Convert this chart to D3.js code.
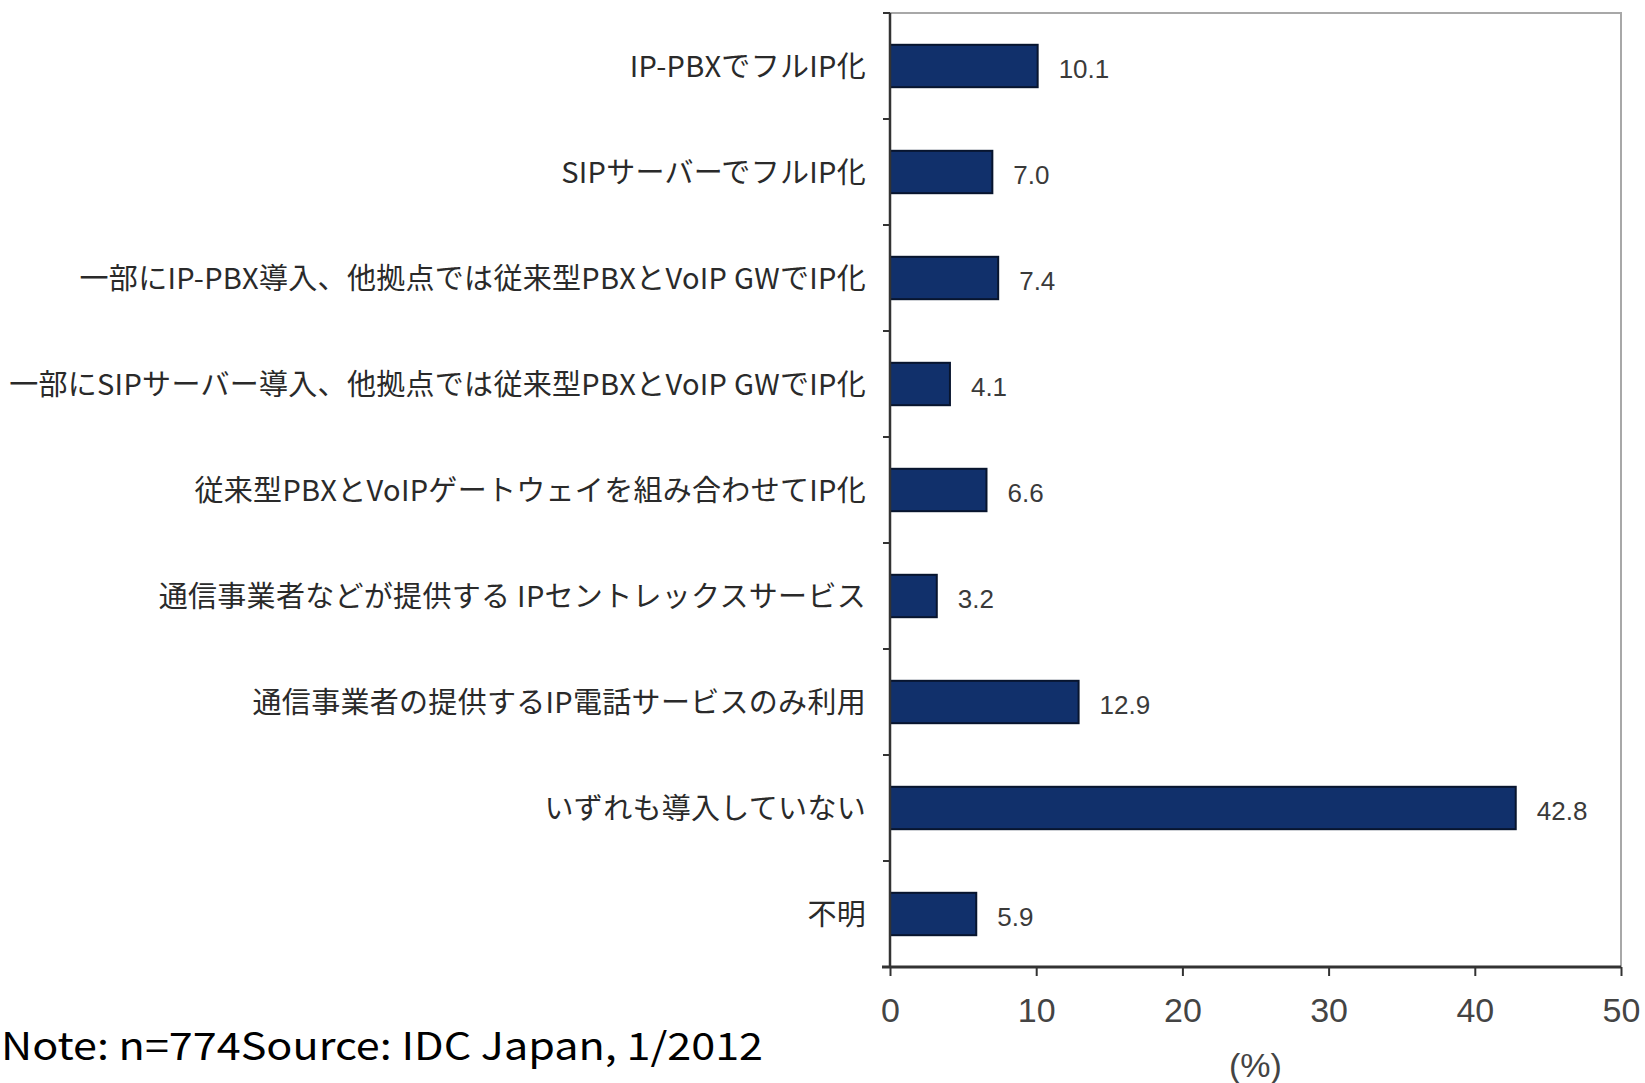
<!DOCTYPE html>
<html>
<head>
<meta charset="utf-8">
<style>
body { margin: 0; background: #fff; }
svg { font-family: "Noto Sans CJK JP", sans-serif; }
</style>
<script src="https://d3js.org/d3.v7.min.js"></script>
</head>
<body>
<svg id="chart" width="1645" height="1083"></svg>
<script>

// categories top to bottom
var categories = [
    "IP-PBXでフルIP化",
    "SIPサーバーでフルIP化",
    "一部にIP-PBX導入、他拠点では従来型PBXとVoIP GWでIP化",
    "一部にSIPサーバー導入、他拠点では従来型PBXとVoIP GWでIP化",
    "従来型PBXとVoIPゲートウェイを組み合わせてIP化",
    "通信事業者などが提供する IPセントレックスサービス",
    "通信事業者の提供するIP電話サービスのみ利用",
    "いずれも導入していない",
    "不明"
];

var values = [10.1, 7.0, 7.4, 4.1, 6.6, 3.2, 12.9, 42.8, 5.9];

var xTicks = [0, 10, 20, 30, 40, 50];

var noteText = "Note: n=774Source: IDC Japan, 1/2012";

var margin = { top: 13, right: 24, bottom: 116, left: 890 };
var width = 1645, height = 1083;
var innerW = width - margin.left - margin.right;
var innerH = height - margin.top - margin.bottom;

var svg = d3.select("#chart");

var x = d3.scaleLinear()
    .domain([0, 50])
    .range([0, innerW]);

var y = d3.scaleBand()
    .domain(categories)
    .range([0, innerH])
    .paddingInner(0.6)
    .paddingOuter(0.3);

var g = svg.append("g")
    .attr("transform", "translate(" + margin.left + "," + margin.top + ")");

// light frame on top and right
g.append("path")
    .attr("d", "M0,0H" + innerW + "V" + innerH)
    .attr("fill", "none")
    .attr("stroke", "#a8a8a8")
    .attr("stroke-width", 2);

// bars
g.selectAll(".bar")
    .data(values)
    .enter().append("rect")
    .attr("class", "bar")
    .attr("x", x(0))
    .attr("y", function(d, i) { return y(categories[i]); })
    .attr("width", function(d) { return x(d) - x(0); })
    .attr("height", y.bandwidth())
    .attr("fill", "#11306b")
    .attr("stroke", "#08152e")
    .attr("stroke-width", 2);

// value labels
g.selectAll(".val")
    .data(values)
    .enter().append("text")
    .attr("class", "val")
    .attr("x", function(d) { return x(d) + 21; })
    .attr("y", function(d, i) { return y(categories[i]) + y.bandwidth() / 2; })
    .attr("dy", "0.45em")
    .style("font-family", "'Liberation Sans', Arial, sans-serif")
    .style("font-size", "26px")
    .attr("fill", "#3a3a3a")
    .text(function(d) { return d.toFixed(1); });

// y axis: line with ticks at band boundaries
g.append("line")
    .attr("x1", 0).attr("x2", 0)
    .attr("y1", 0).attr("y2", innerH)
    .attr("stroke", "#333").attr("stroke-width", 2.5);

var bounds = d3.range(categories.length + 1).map(function(i) { return i * y.step(); });
g.selectAll(".ytick")
    .data(bounds)
    .enter().append("line")
    .attr("class", "ytick")
    .attr("x1", -7).attr("x2", 0)
    .attr("y1", function(d) { return d; })
    .attr("y2", function(d) { return d; })
    .attr("stroke", "#333").attr("stroke-width", 2);

// category labels
g.selectAll(".cat")
    .data(categories)
    .enter().append("text")
    .attr("class", "cat")
    .attr("x", -24)
    .attr("y", function(d) { return y(d) + y.bandwidth() / 2; })
    .attr("dy", "0.38em")
    .attr("text-anchor", "end")
    .style("font-size", "29px")
    .style("letter-spacing", "0.3px")
    .attr("fill", "#2a2a2a")
    .text(function(d) { return d; });

// x axis
var xAxis = g.append("g")
    .attr("transform", "translate(0," + innerH + ")")
    .call(d3.axisBottom(x).tickValues(xTicks).tickSize(9).tickPadding(22).tickSizeOuter(0));

xAxis.select(".domain")
    .attr("stroke", "#333").attr("stroke-width", 3)
    .attr("d", "M-8,0H" + innerW);
xAxis.selectAll(".tick line").attr("stroke", "#333").attr("stroke-width", 2);
xAxis.selectAll(".tick text")
    .style("font-family", "'Liberation Sans', Arial, sans-serif")
    .style("font-size", "34px")
    .attr("fill", "#444");

g.append("text")
    .attr("x", innerW / 2)
    .attr("y", innerH + 110)
    .attr("text-anchor", "middle")
    .style("font-family", "'Liberation Sans', Arial, sans-serif")
    .style("font-size", "34px")
    .attr("fill", "#444")
    .text("(%)");

// source note
svg.append("text")
    .attr("x", 1)
    .attr("y", 1060)
    .attr("textLength", 762)
    .attr("lengthAdjust", "spacingAndGlyphs")
    .style("font-size", "38px")
    .attr("fill", "#000")
    .text(noteText);

</script>
</body>
</html>
